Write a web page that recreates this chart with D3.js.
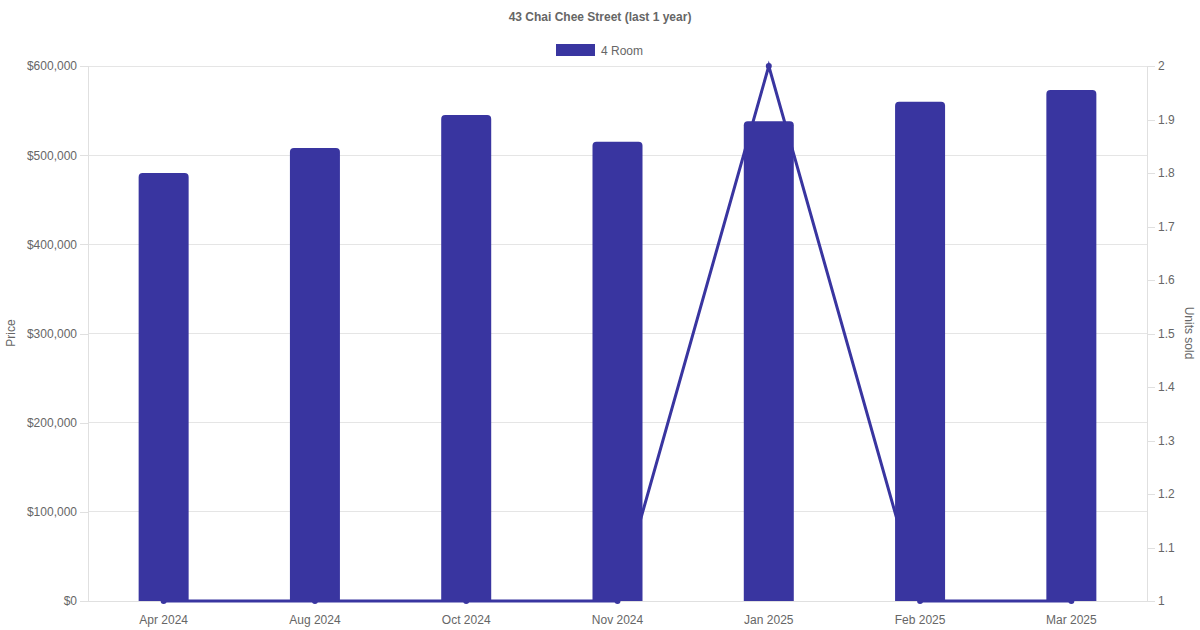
<!DOCTYPE html>
<html><head><meta charset="utf-8">
<script src="https://cdn.jsdelivr.net/npm/d3@7"></script>
<style>body{margin:0;background:#fff;font-family:"Liberation Sans",Arial,sans-serif;}</style>
</head><body>
<svg id="c" width="1200" height="630"></svg>
<script>
const title = "43 Chai Chee Street (last 1 year)";
const seriesName = "4 Room";
const categories = ["Apr 2024","Aug 2024","Oct 2024","Nov 2024","Jan 2025","Feb 2025","Mar 2025"];
const prices = [480000, 508000, 545000, 515000, 538000, 560000, 573000];
const unitsSold = [1, 1, 1, 1, 2, 1, 1];
const priceTicks = [0,100000,200000,300000,400000,500000,600000];
const unitTicks = [1,1.1,1.2,1.3,1.4,1.5,1.6,1.7,1.8,1.9,2];

const color = "#3935a0";
const svg = d3.select("#c");
const m = {l:88, r:1147, t:66, b:601};
const x = d3.scaleBand().domain(categories).range([m.l, m.r]).padding(0);
const y = d3.scaleLinear().domain([0,600000]).range([m.b, m.t]);
const y2 = d3.scaleLinear().domain([1,2]).range([m.b, m.t]);

// grid
svg.append("g").selectAll("line").data(priceTicks).join("line")
  .attr("x1", m.l).attr("x2", m.r).attr("y1", d=>y(d)).attr("y2", d=>y(d))
  .attr("stroke", "#e5e5e5").attr("stroke-width",1).attr("shape-rendering","crispEdges");

const fmt = d => "$" + d3.format(",")(d);
const ga = svg.append("g").attr("transform", `translate(${m.l},0)`)
  .call(d3.axisLeft(y).tickValues(priceTicks).tickFormat(fmt).tickSize(8).tickPadding(3));
const gr = svg.append("g").attr("transform", `translate(${m.r},0)`)
  .call(d3.axisRight(y2).tickValues(unitTicks).tickFormat(d3.format("~g")).tickSize(8).tickPadding(3));
const gx = svg.append("g").attr("transform", `translate(0,${m.b})`)
  .call(d3.axisBottom(x).tickSize(0).tickPadding(14));
[ga,gr,gx].forEach(g=>{
  g.selectAll(".domain").attr("stroke","#e0e0e0").attr("shape-rendering","crispEdges");
  g.selectAll(".tick line").attr("stroke","#e0e0e0").attr("shape-rendering","crispEdges");
  g.selectAll("text").attr("fill","#666").style("font-size","12px").style("font-family","Liberation Sans, Arial, sans-serif");
});
gx.select(".domain").attr("d", `M${m.l},0.5H${m.r}`);

// line (behind bars)
const line = d3.line().x((d,i)=>x(categories[i])+x.bandwidth()/2).y(d=>y2(d));
svg.append("path").datum(unitsSold).attr("d", line).attr("fill","none")
  .attr("stroke", color).attr("stroke-width",3);
svg.append("g").selectAll("circle").data(unitsSold).join("circle")
  .attr("cx",(d,i)=>x(categories[i])+x.bandwidth()/2).attr("cy",d=>y2(d)).attr("r",3).attr("fill",color);

// bars
const bw = 50, rr = 4;
svg.append("g").selectAll("path").data(prices).join("path")
  .attr("d",(d,i)=>{
    const cx = x(categories[i])+x.bandwidth()/2, x0 = cx-bw/2, x1 = cx+bw/2, yt = y(d), yb = y(0);
    return `M${x0},${yb}V${yt+rr}Q${x0},${yt} ${x0+rr},${yt}H${x1-rr}Q${x1},${yt} ${x1},${yt+rr}V${yb}Z`;
  }).attr("fill", color);

// title & legend
svg.append("text").attr("x",600).attr("y",21).attr("text-anchor","middle")
  .attr("fill","#666").style("font-size","12px").style("font-weight","bold").text(title);
svg.append("rect").attr("x",556).attr("y",44).attr("width",39).attr("height",12).attr("fill",color);
svg.append("text").attr("x",601).attr("y",54.5).attr("fill","#666").style("font-size","12px").text(seriesName);

// axis titles
svg.append("text").attr("transform","translate(15,333) rotate(-90)").attr("text-anchor","middle")
  .attr("fill","#666").style("font-size","12px").text("Price");
svg.append("text").attr("transform","translate(1185,333) rotate(90)").attr("text-anchor","middle")
  .attr("fill","#666").style("font-size","12px").text("Units sold");
</script>
</body></html>
